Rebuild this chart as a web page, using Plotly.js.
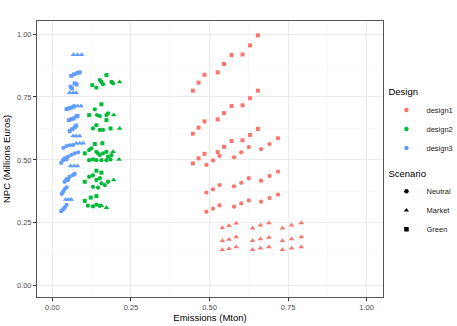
<!DOCTYPE html>
<html>
<head>
<meta charset="utf-8">
<script src="https://cdn.plot.ly/plotly-3.0.1.min.js"></script>
<style>
  html, body { margin: 0; padding: 0; background: #fff; }
  #chart { width: 457px; height: 326px; }
</style>
</head>
<body>
<div id="chart"></div>
<script>
// colours / names
const designNames = ['design1', 'design2', 'design3'];
const designColors = ['#F8766D', '#00BA38', '#619CFF'];
const scenarioNames = ['Neutral', 'Market', 'Green'];
const scenarioSymbols = ['circle', 'triangle-up', 'square'];

const tickVals = [0, 0.25, 0.5, 0.75, 1];
const tickText = ['0.00', '0.25', '0.50', '0.75', '1.00'];
const minorVals = [0.125, 0.375, 0.625, 0.875];

// design1
const d1NeutralX = [0.490,0.511,0.532,0.578,0.601,0.625,0.664,0.691,0.718,
                    0.490,0.511,0.532,0.578,0.601,0.625,0.664,0.691,0.718,
                    0.490,0.511,0.532,0.578,0.601,0.625,0.664,0.691,0.718];
const d1NeutralY = [0.480,0.498,0.516,0.510,0.530,0.551,0.543,0.563,0.586,
                    0.370,0.383,0.400,0.395,0.409,0.427,0.417,0.436,0.453,
                    0.294,0.306,0.319,0.314,0.327,0.339,0.334,0.348,0.362];
const d1MarketX = [0.541,0.562,0.585,0.637,0.662,0.689,0.732,0.761,0.792,
                   0.541,0.562,0.585,0.637,0.662,0.689,0.732,0.761,0.792,
                   0.541,0.562,0.585,0.637,0.662,0.689,0.732,0.761,0.792];
const d1MarketY = [0.230,0.238,0.248,0.228,0.240,0.249,0.228,0.240,0.249,
                   0.179,0.184,0.193,0.179,0.186,0.191,0.179,0.186,0.193,
                   0.143,0.147,0.154,0.143,0.149,0.154,0.143,0.149,0.154];
const d1GreenX = [0.447,0.465,0.484,0.526,0.546,0.570,0.605,0.629,0.654,
                  0.447,0.465,0.484,0.526,0.546,0.570,0.605,0.629,0.654,
                  0.447,0.465,0.484,0.526,0.546,0.570,0.605,0.629,0.654];
const d1GreenY = [0.775,0.807,0.838,0.848,0.881,0.917,0.919,0.955,0.995,
                  0.604,0.628,0.653,0.661,0.686,0.714,0.717,0.745,0.775,
                  0.486,0.506,0.524,0.531,0.552,0.575,0.578,0.599,0.623];

// design2
const d2NeutralX = [0.140,0.151,0.156,0.161,0.188,0.193,
                    0.135,0.142,0.151,0.172,0.177,0.129,0.140,0.151,0.161,
                    0.117,0.124,0.140,0.145,0.151,0.161,0.172,0.177,0.188,
                    0.117,0.129,0.140,0.156,0.172,0.185,
                    0.117,0.129,0.140,0.151,0.156,0.167,0.177,0.129,0.145,
                    0.113,0.129,0.140,0.151];
const d2NeutralY = [0.787,0.817,0.810,0.801,0.810,0.804,
                    0.701,0.678,0.674,0.678,0.685,0.625,0.638,0.619,0.619,
                    0.539,0.546,0.532,0.526,0.519,0.526,0.532,0.513,0.519,
                    0.499,0.502,0.499,0.499,0.499,0.502,
                    0.433,0.438,0.420,0.427,0.407,0.400,0.413,0.393,0.390,
                    0.318,0.315,0.322,0.317];
const d2MarketX = [0.214,0.195,0.214,0.193,0.212,0.195,0.156,0.172];
const d2MarketY = [0.810,0.678,0.625,0.532,0.502,0.420,0.318,0.310];
const d2GreenX = [0.172,0.127,0.156,0.117,0.172,0.185,0.103,0.159,0.135,
                  0.140,0.103,0.156,0.140,0.122,0.103];
const d2GreenY = [0.837,0.797,0.721,0.678,0.658,0.625,0.526,0.566,0.563,
                  0.457,0.413,0.449,0.356,0.350,0.337];

// design3
const d3NeutralX = [0.035,0.045,0.055,0.066,
                    0.039,0.050,0.061,0.071,0.082,
                    0.028,0.034,0.045,
                    0.039,0.050,0.045,0.055,0.066,0.071,
                    0.030,0.034,0.039,0.045,
                    0.028,0.034,0.039,0.045];
const d3NeutralY = [0.548,0.555,0.558,0.559,
                    0.506,0.513,0.520,0.526,0.530,
                    0.488,0.499,0.502,
                    0.413,0.420,0.423,0.433,0.440,0.444,
                    0.365,0.373,0.383,0.391,
                    0.296,0.303,0.311,0.321];
const d3MarketX = [0.067,0.080,0.093, 0.055,0.066,0.076, 0.069,0.080,0.091,
                   0.066,0.076,0.087, 0.076,0.087,0.098, 0.058,0.069,0.080,
                   0.042,0.051,0.060];
const d3MarketY = [0.918,0.918,0.918, 0.767,0.767,0.767, 0.714,0.714,0.714,
                   0.595,0.595,0.595, 0.566,0.566,0.566, 0.476,0.476,0.476,
                   0.343,0.343,0.343];
const d3GreenX = [0.060,0.069,0.080,0.087,
                  0.071,0.077,0.058,0.062,
                  0.045,0.053,0.061,0.068,
                  0.053,0.061,0.068,0.076,0.080,
                  0.055,0.063,0.071,0.076];
const d3GreenY = [0.834,0.840,0.845,0.848,
                  0.804,0.800,0.791,0.784,
                  0.702,0.705,0.708,0.712,
                  0.658,0.662,0.665,0.672,0.675,
                  0.615,0.622,0.629,0.636];

const seriesX = [[d1NeutralX, d1MarketX, d1GreenX],
                 [d2NeutralX, d2MarketX, d2GreenX],
                 [d3NeutralX, d3MarketX, d3GreenX]];
const seriesY = [[d1NeutralY, d1MarketY, d1GreenY],
                 [d2NeutralY, d2MarketY, d2GreenY],
                 [d3NeutralY, d3MarketY, d3GreenY]];

const markerSizes = [4.3, 5, 4];
const traces = [];

// the actual points
designNames.forEach((d, i) => {
    scenarioNames.forEach((s, j) => {
        traces.push({
            x: seriesX[i][j],
            y: seriesY[i][j],
            type: 'scatter',
            mode: 'markers',
            name: d + ' ' + s,
            showlegend: false,
            marker: { color: designColors[i], symbol: scenarioSymbols[j], size: markerSizes[j] },
            hoverinfo: 'x+y'
        });
    });
});

// legend entries (two separate guides like ggplot)
designNames.forEach((d, i) => {
    traces.push({
        x: [null], y: [null], type: 'scatter', mode: 'markers',
        name: d, legend: 'legend',
        marker: { color: designColors[i], symbol: 'circle', size: 4.5 }
    });
});
scenarioNames.forEach((s, j) => {
    traces.push({
        x: [null], y: [null], type: 'scatter', mode: 'markers',
        name: s, legend: 'legend2',
        marker: { color: '#000000', symbol: scenarioSymbols[j], size: 4.5 }
    });
});

const axisBase = {
    tickvals: tickVals,
    ticktext: tickText,
    ticks: 'outside',
    ticklen: 3,
    tickwidth: 1,
    tickcolor: '#333333',
    showline: true,
    mirror: true,
    linecolor: '#555555',
    linewidth: 1,
    showgrid: true,
    gridcolor: '#EBEBEB',
    gridwidth: 1,
    zeroline: false,
    minor: { tickvals: minorVals, showgrid: true, gridcolor: '#F5F5F5', gridwidth: 0.6, ticks: '' },
    tickfont: { family: 'Liberation Sans, Arial, sans-serif', size: 7.5, color: '#4D4D4D' }
};

const layout = {
    width: 457,
    height: 326,
    margin: { l: 37, r: 74, t: 21, b: 29, autoexpand: false },
    paper_bgcolor: '#ffffff',
    plot_bgcolor: '#ffffff',
    font: { family: 'Liberation Sans, Arial, sans-serif', color: '#000' },
    xaxis: Object.assign({}, axisBase, {
        range: [-0.049, 1.052],
        title: { text: 'Emissions (Mton)', font: { size: 9.5, color: '#000' }, standoff: 3 }
    }),
    yaxis: Object.assign({}, axisBase, {
        range: [-0.045, 1.052],
        title: { text: 'NPC (Millions Euros)', font: { size: 9.5, color: '#000' }, standoff: 4 }
    }),
    legend: {
        x: 1.01, xanchor: 'left', y: 0.775, yanchor: 'top',
        bgcolor: 'rgba(0,0,0,0)',
        title: { text: 'Design', font: { size: 9.5, color: '#000' } },
        font: { size: 7.5, color: '#1a1a1a' },
        itemwidth: 30
    },
    legend2: {
        x: 1.01, xanchor: 'left', y: 0.48, yanchor: 'top',
        bgcolor: 'rgba(0,0,0,0)',
        title: { text: 'Scenario', font: { size: 9.5, color: '#000' } },
        font: { size: 7.5, color: '#1a1a1a' },
        itemwidth: 30
    },
    hovermode: 'closest'
};

Plotly.newPlot('chart', traces, layout, { displayModeBar: false, staticPlot: true });
</script>
</body>
</html>
